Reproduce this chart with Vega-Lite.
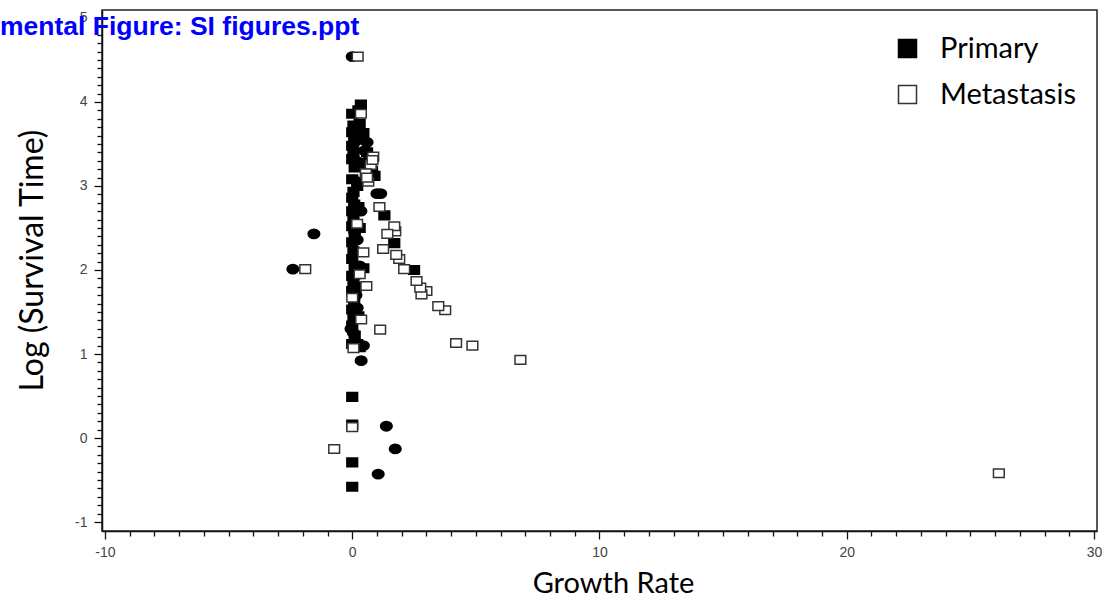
{
  "$schema": "https://vega.github.io/schema/vega-lite/v6.json",
  "width": 995,
  "height": 521,
  "autosize": "none",
  "padding": {"left": 102, "top": 10, "right": 12, "bottom": 68},
  "background": "white",
  "title": {
    "text": "mental Figure: SI figures.ppt",
    "anchor": "start",
    "frame": "group",
    "orient": "top",
    "offset": -26,
    "baseline": "alphabetic",
    "dx": -102,
    "dy": 25,
    "font": "Liberation Sans",
    "fontWeight": "bold",
    "fontSize": 26.5,
    "color": "#0000FF"
  },
  "config": {
    "view": {"stroke": "#222", "strokeWidth": 1.5},
    "axis": {
      "grid": false,
      "domainColor": "#111",
      "domainWidth": 1.5,
      "tickColor": "#111",
      "tickWidth": 1.3,
      "labelFont": "Liberation Sans",
      "labelFontSize": 14,
      "labelColor": "#444",
      "titleFont": "Lato",
      "titleFontSize": 29,
      "titleFontWeight": "normal",
      "titleColor": "#000",
      "labelOverlap": false
    }
  },
  "data": {
    "values": [
      {"rate": 0, "logSurvival": 3.86, "site": "Primary", "marker": "rect"},
      {"rate": 0.05, "logSurvival": 3.72, "site": "Primary", "marker": "rect"},
      {"rate": 0, "logSurvival": 3.64, "site": "Primary", "marker": "rect"},
      {"rate": 0.08, "logSurvival": 3.56, "site": "Primary", "marker": "rect"},
      {"rate": 0, "logSurvival": 3.48, "site": "Primary", "marker": "rect"},
      {"rate": 0.05, "logSurvival": 3.4, "site": "Primary", "marker": "rect"},
      {"rate": 0, "logSurvival": 3.32, "site": "Primary", "marker": "rect"},
      {"rate": 0.1, "logSurvival": 3.22, "site": "Primary", "marker": "rect"},
      {"rate": 0, "logSurvival": 3.08, "site": "Primary", "marker": "rect"},
      {"rate": 0.05, "logSurvival": 2.93, "site": "Primary", "marker": "rect"},
      {"rate": 0, "logSurvival": 2.86, "site": "Primary", "marker": "rect"},
      {"rate": 0.08, "logSurvival": 2.78, "site": "Primary", "marker": "rect"},
      {"rate": 0, "logSurvival": 2.7, "site": "Primary", "marker": "rect"},
      {"rate": 0.05, "logSurvival": 2.62, "site": "Primary", "marker": "rect"},
      {"rate": 0, "logSurvival": 2.52, "site": "Primary", "marker": "rect"},
      {"rate": 0.1, "logSurvival": 2.44, "site": "Primary", "marker": "rect"},
      {"rate": 0, "logSurvival": 2.33, "site": "Primary", "marker": "rect"},
      {"rate": 0.05, "logSurvival": 2.22, "site": "Primary", "marker": "rect"},
      {"rate": 0, "logSurvival": 2.13, "site": "Primary", "marker": "rect"},
      {"rate": 0.1, "logSurvival": 2.03, "site": "Primary", "marker": "rect"},
      {"rate": 0, "logSurvival": 1.93, "site": "Primary", "marker": "rect"},
      {"rate": 0.05, "logSurvival": 1.84, "site": "Primary", "marker": "rect"},
      {"rate": 0, "logSurvival": 1.75, "site": "Primary", "marker": "rect"},
      {"rate": 0.08, "logSurvival": 1.64, "site": "Primary", "marker": "rect"},
      {"rate": 0, "logSurvival": 1.53, "site": "Primary", "marker": "rect"},
      {"rate": 0.05, "logSurvival": 1.44, "site": "Primary", "marker": "rect"},
      {"rate": 0, "logSurvival": 1.34, "site": "Primary", "marker": "rect"},
      {"rate": 0.1, "logSurvival": 1.22, "site": "Primary", "marker": "rect"},
      {"rate": 0, "logSurvival": 1.12, "site": "Primary", "marker": "rect"},
      {"rate": 0.2, "logSurvival": 1.12, "site": "Primary", "marker": "rect"},
      {"rate": 0, "logSurvival": 0.49, "site": "Primary", "marker": "rect"},
      {"rate": 0, "logSurvival": 0.16, "site": "Primary", "marker": "rect"},
      {"rate": 0, "logSurvival": -0.29, "site": "Primary", "marker": "rect"},
      {"rate": 0, "logSurvival": -0.58, "site": "Primary", "marker": "rect"},
      {"rate": 0.35, "logSurvival": 3.97, "site": "Primary", "marker": "rect"},
      {"rate": 0.25, "logSurvival": 3.9, "site": "Primary", "marker": "rect"},
      {"rate": 0.3, "logSurvival": 3.74, "site": "Primary", "marker": "rect"},
      {"rate": 0.45, "logSurvival": 3.63, "site": "Primary", "marker": "rect"},
      {"rate": 0.4, "logSurvival": 3.55, "site": "Primary", "marker": "rect"},
      {"rate": 0.6, "logSurvival": 3.4, "site": "Primary", "marker": "rect"},
      {"rate": 0.7, "logSurvival": 3.32, "site": "Primary", "marker": "rect"},
      {"rate": 0.5, "logSurvival": 3.27, "site": "Primary", "marker": "rect"},
      {"rate": 0.8, "logSurvival": 3.18, "site": "Primary", "marker": "rect"},
      {"rate": 0.9, "logSurvival": 3.12, "site": "Primary", "marker": "rect"},
      {"rate": 0.2, "logSurvival": 3.0, "site": "Primary", "marker": "rect"},
      {"rate": 0.25, "logSurvival": 2.75, "site": "Primary", "marker": "rect"},
      {"rate": 0.3, "logSurvival": 2.5, "site": "Primary", "marker": "rect"},
      {"rate": 0.45, "logSurvival": 2.02, "site": "Primary", "marker": "rect"},
      {"rate": 0.15, "logSurvival": 1.8, "site": "Primary", "marker": "rect"},
      {"rate": 0.25, "logSurvival": 1.45, "site": "Primary", "marker": "rect"},
      {"rate": 1.3, "logSurvival": 2.65, "site": "Primary", "marker": "rect"},
      {"rate": 1.7, "logSurvival": 2.32, "site": "Primary", "marker": "rect"},
      {"rate": 2.5, "logSurvival": 2.0, "site": "Primary", "marker": "rect"},
      {"rate": 0.3, "logSurvival": 1.08, "site": "Primary", "marker": "rect"},
      {"rate": 0, "logSurvival": 4.54, "site": "Primary", "marker": "ellipse"},
      {"rate": -2.4, "logSurvival": 2.01, "site": "Primary", "marker": "ellipse"},
      {"rate": -1.55, "logSurvival": 2.43, "site": "Primary", "marker": "ellipse"},
      {"rate": 1.38, "logSurvival": 0.14, "site": "Primary", "marker": "ellipse"},
      {"rate": 1.74, "logSurvival": -0.13, "site": "Primary", "marker": "ellipse"},
      {"rate": 1.05, "logSurvival": -0.43, "site": "Primary", "marker": "ellipse"},
      {"rate": 0.36, "logSurvival": 0.92, "site": "Primary", "marker": "ellipse"},
      {"rate": 1.0, "logSurvival": 2.91, "site": "Primary", "marker": "ellipse"},
      {"rate": 1.15, "logSurvival": 2.91, "site": "Primary", "marker": "ellipse"},
      {"rate": 0.05, "logSurvival": 3.5, "site": "Primary", "marker": "ellipse"},
      {"rate": 0.15, "logSurvival": 3.3, "site": "Primary", "marker": "ellipse"},
      {"rate": 0.25, "logSurvival": 3.05, "site": "Primary", "marker": "ellipse"},
      {"rate": 0.1, "logSurvival": 2.75, "site": "Primary", "marker": "ellipse"},
      {"rate": 0.2, "logSurvival": 2.36, "site": "Primary", "marker": "ellipse"},
      {"rate": 0.3, "logSurvival": 2.05, "site": "Primary", "marker": "ellipse"},
      {"rate": 0.15, "logSurvival": 1.7, "site": "Primary", "marker": "ellipse"},
      {"rate": 0.2, "logSurvival": 1.55, "site": "Primary", "marker": "ellipse"},
      {"rate": -0.05, "logSurvival": 1.3, "site": "Primary", "marker": "ellipse"},
      {"rate": 0.05, "logSurvival": 1.25, "site": "Primary", "marker": "ellipse"},
      {"rate": 0.45, "logSurvival": 1.1, "site": "Primary", "marker": "ellipse"},
      {"rate": 0.5, "logSurvival": 3.42, "site": "Primary", "marker": "ellipse"},
      {"rate": 0.7, "logSurvival": 3.23, "site": "Primary", "marker": "ellipse"},
      {"rate": 0.85, "logSurvival": 3.14, "site": "Primary", "marker": "ellipse"},
      {"rate": 0.6, "logSurvival": 3.52, "site": "Primary", "marker": "ellipse"},
      {"rate": 0.35, "logSurvival": 2.7, "site": "Primary", "marker": "ellipse"},
      {"rate": 0.25, "logSurvival": 1.95, "site": "Primary", "marker": "ellipse"},
      {"rate": 0.1, "logSurvival": 2.45, "site": "Primary", "marker": "ellipse"},
      {"rate": 0.3, "logSurvival": 3.62, "site": "Primary", "marker": "ellipse"},
      {"rate": 0.4, "logSurvival": 3.27, "site": "Primary", "marker": "ellipse"},
      {"rate": 0.12, "logSurvival": 1.1, "site": "Primary", "marker": "ellipse"},
      {"rate": 0.22, "logSurvival": 4.54, "site": "Metastasis", "marker": "rect"},
      {"rate": 0.35, "logSurvival": 3.86, "site": "Metastasis", "marker": "rect"},
      {"rate": -1.9, "logSurvival": 2.01, "site": "Metastasis", "marker": "rect"},
      {"rate": 26.15, "logSurvival": -0.42, "site": "Metastasis", "marker": "rect"},
      {"rate": 6.8, "logSurvival": 0.93, "site": "Metastasis", "marker": "rect"},
      {"rate": 4.86, "logSurvival": 1.1, "site": "Metastasis", "marker": "rect"},
      {"rate": 4.2, "logSurvival": 1.13, "site": "Metastasis", "marker": "rect"},
      {"rate": 3.76, "logSurvival": 1.52, "site": "Metastasis", "marker": "rect"},
      {"rate": 3.48, "logSurvival": 1.57, "site": "Metastasis", "marker": "rect"},
      {"rate": 3.0, "logSurvival": 1.75, "site": "Metastasis", "marker": "rect"},
      {"rate": 2.8, "logSurvival": 1.71, "site": "Metastasis", "marker": "rect"},
      {"rate": 2.75, "logSurvival": 1.79, "site": "Metastasis", "marker": "rect"},
      {"rate": 2.6, "logSurvival": 1.87, "site": "Metastasis", "marker": "rect"},
      {"rate": 2.1, "logSurvival": 2.01, "site": "Metastasis", "marker": "rect"},
      {"rate": 1.9, "logSurvival": 2.13, "site": "Metastasis", "marker": "rect"},
      {"rate": 1.78, "logSurvival": 2.18, "site": "Metastasis", "marker": "rect"},
      {"rate": 1.25, "logSurvival": 2.25, "site": "Metastasis", "marker": "rect"},
      {"rate": 1.74, "logSurvival": 2.46, "site": "Metastasis", "marker": "rect"},
      {"rate": 1.7, "logSurvival": 2.52, "site": "Metastasis", "marker": "rect"},
      {"rate": 1.42, "logSurvival": 2.43, "site": "Metastasis", "marker": "rect"},
      {"rate": 1.1, "logSurvival": 2.75, "site": "Metastasis", "marker": "rect"},
      {"rate": 1.13, "logSurvival": 1.29, "site": "Metastasis", "marker": "rect"},
      {"rate": 0.45, "logSurvival": 2.21, "site": "Metastasis", "marker": "rect"},
      {"rate": 0.57, "logSurvival": 1.81, "site": "Metastasis", "marker": "rect"},
      {"rate": 0.36, "logSurvival": 1.41, "site": "Metastasis", "marker": "rect"},
      {"rate": -0.73, "logSurvival": -0.13, "site": "Metastasis", "marker": "rect"},
      {"rate": 0, "logSurvival": 0.13, "site": "Metastasis", "marker": "rect"},
      {"rate": 0.85, "logSurvival": 3.35, "site": "Metastasis", "marker": "rect"},
      {"rate": 0.65, "logSurvival": 3.05, "site": "Metastasis", "marker": "rect"},
      {"rate": 0.75, "logSurvival": 3.25, "site": "Metastasis", "marker": "rect"},
      {"rate": 0.82, "logSurvival": 3.31, "site": "Metastasis", "marker": "rect"},
      {"rate": 0.55, "logSurvival": 3.15, "site": "Metastasis", "marker": "rect"},
      {"rate": 0.05, "logSurvival": 1.07, "site": "Metastasis", "marker": "rect"},
      {"rate": 0.3, "logSurvival": 1.95, "site": "Metastasis", "marker": "rect"},
      {"rate": 0, "logSurvival": 1.67, "site": "Metastasis", "marker": "rect"},
      {"rate": 0.2, "logSurvival": 2.55, "site": "Metastasis", "marker": "rect"},
      {"rate": 0.6, "logSurvival": 3.1, "site": "Metastasis", "marker": "rect"}
    ]
  },
  "mark": {"type": "point", "filled": true, "strokeWidth": 1.5, "opacity": 1},
  "encoding": {
    "x": {
      "field": "rate",
      "type": "quantitative",
      "scale": {"domain": [-10.12, 30.12], "nice": false, "zero": false},
      "axis": {
        "title": "Growth Rate",
        "values": [-10, -9, -8, -7, -6, -5, -4, -3, -2, -1, 0, 1, 2, 3, 4, 5, 6, 7, 8, 9, 10, 11, 12, 13, 14, 15, 16, 17, 18, 19, 20, 21, 22, 23, 24, 25, 26, 27, 28, 29, 30],
        "labelExpr": "datum.value % 10 === 0 ? '' + datum.value : ''",
        "tickSize": {"condition": {"test": "datum.value % 10 === 0", "value": 8}, "value": 5},
        "labelPadding": 6,
        "titleAlign": "center",
        "titleBaseline": "alphabetic",
        "titleX": 511,
        "titleY": 61
      }
    },
    "y": {
      "field": "logSurvival",
      "type": "quantitative",
      "scale": {"domain": [-1.107, 5.095], "nice": false, "zero": false},
      "axis": {
        "title": "Log (Survival Time)",
        "titleFontSize": 32,
        "values": [-1, -0.9, -0.8, -0.7, -0.6, -0.5, -0.4, -0.3, -0.2, -0.1, 0, 0.1, 0.2, 0.3, 0.4, 0.5, 0.6, 0.7, 0.8, 0.9, 1, 1.1, 1.2, 1.3, 1.4, 1.5, 1.6, 1.7, 1.8, 1.9, 2, 2.1, 2.2, 2.3, 2.4, 2.5, 2.6, 2.7, 2.8, 2.9, 3, 3.1, 3.2, 3.3, 3.4, 3.5, 3.6, 3.7, 3.8, 3.9, 4, 4.1, 4.2, 4.3, 4.4, 4.5, 4.6, 4.7, 4.8, 4.9, 5],
        "labelExpr": "abs(datum.value - round(datum.value)) < 0.001 ? '' + round(datum.value) : ''",
        "tickSize": {"condition": {"test": "abs(datum.value - round(datum.value)) < 0.001", "value": 8}, "value": 5},
        "labelPadding": 7,
        "titleAngle": 270,
        "titleAlign": "center",
        "titleBaseline": "alphabetic",
        "titleX": -60,
        "titleY": 250
      }
    },
    "shape": {
      "field": "marker",
      "type": "nominal",
      "scale": {
        "domain": ["rect", "ellipse"],
        "range": ["M-1,-0.8H1V0.8H-1Z", "M-1,0A1,0.8 0 1,0 1,0A1,0.8 0 1,0 -1,0Z"]
      },
      "legend": null
    },
    "size": {
      "field": "marker",
      "type": "nominal",
      "scale": {"domain": ["rect", "ellipse"], "range": [115, 135]},
      "legend": null
    },
    "fill": {
      "field": "site",
      "type": "nominal",
      "scale": {"domain": ["Primary", "Metastasis"], "range": ["#000000", "#ffffff"]},
      "legend": {
        "title": null,
        "orient": "none",
        "legendX": 791,
        "legendY": 24,
        "padding": 0,
        "symbolType": "square",
        "symbolSize": 324,
        "symbolStrokeColor": "#000",
        "symbolStrokeWidth": 1.5,
        "labelFont": "Lato",
        "labelFontSize": 29,
        "labelColor": "#000",
        "labelOffset": 18,
        "rowPadding": 16,
        "labelLimit": 300
      }
    },
    "stroke": {
      "field": "site",
      "type": "nominal",
      "scale": {"domain": ["Primary", "Metastasis"], "range": ["#000000", "#333333"]},
      "legend": null
    }
  }
}
